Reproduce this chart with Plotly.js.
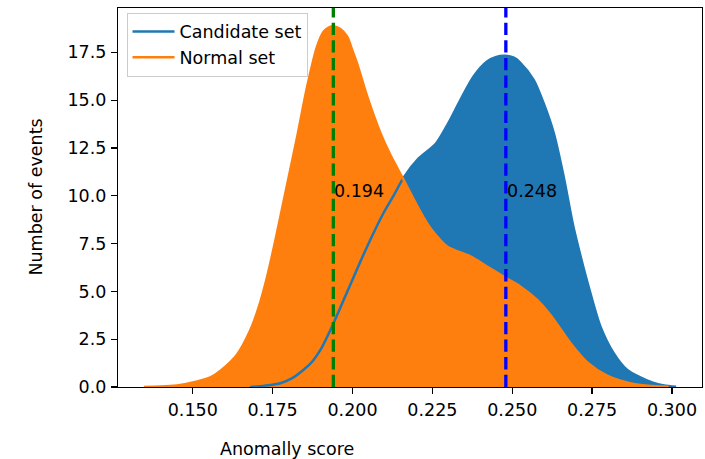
<!DOCTYPE html>
<html>
<head>
<meta charset="utf-8">
<script src="https://cdn.plot.ly/plotly-3.0.1.min.js"></script>
<style>html,body{margin:0;padding:0;background:#fff;}#chart{width:705px;height:459px;}</style>
</head>
<body>
<div id="chart"></div>
<script>
// KDE curve of the candidate set
const candidateX = [0.168, 0.1725, 0.1774, 0.181, 0.1847, 0.1875, 0.190, 0.1941, 0.1993, 0.2046, 0.2097, 0.2130, 0.2160, 0.2207, 0.2260, 0.2300, 0.2338, 0.2379, 0.2421, 0.2450, 0.2478, 0.2505, 0.2524, 0.2567, 0.2598, 0.2630, 0.2661, 0.2690, 0.2713, 0.2744, 0.2776, 0.2817, 0.2859, 0.2901, 0.2940, 0.2975, 0.3013];
const candidateY = [0.0, 0.07, 0.2, 0.45, 0.9, 1.35, 1.95, 3.35, 5.35, 7.35, 9.1, 10.05, 10.95, 11.95, 12.7, 13.8, 15.02, 16.24, 17.02, 17.26, 17.32, 17.22, 16.98, 16.06, 14.85, 13.28, 11.0, 8.5, 6.9, 4.95, 3.17, 1.78, 0.9, 0.5, 0.22, 0.08, 0.01];

// KDE curve of the normal set
const normalX = [0.1347, 0.140, 0.145, 0.1514, 0.1555, 0.1587, 0.1639, 0.1681, 0.1707, 0.1733, 0.1759, 0.1788, 0.1827, 0.1858, 0.1889, 0.1910, 0.1925, 0.1941, 0.1962, 0.1983, 0.1999, 0.2014, 0.2046, 0.2087, 0.2118, 0.2158, 0.2192, 0.2223, 0.2244, 0.2296, 0.2369, 0.2421, 0.2480, 0.2525, 0.2578, 0.2619, 0.2682, 0.2734, 0.2797, 0.2880, 0.2940, 0.2990];
const normalY = [0.0, 0.02, 0.08, 0.29, 0.5, 0.85, 1.7, 3.0, 4.2, 5.78, 7.7, 10.0, 13.1, 15.7, 17.8, 18.59, 18.8, 18.87, 18.72, 18.33, 17.63, 16.94, 15.2, 13.3, 12.15, 10.9, 9.8, 8.85, 8.3, 7.35, 6.83, 6.3, 5.7, 5.26, 4.56, 3.78, 2.3, 1.3, 0.6, 0.16, 0.05, 0.01];

const seriesNames = ["Candidate set", "Normal set"];
const peakValues = [0.194, 0.248];
const peakLabels = ["0.194", "0.248"];
const peakLabelY = 10;
const xTicks = [0.150, 0.175, 0.200, 0.225, 0.250, 0.275, 0.300];
const yTicks = [0.0, 2.5, 5.0, 7.5, 10.0, 12.5, 15.0, 17.5];

const BLUE = "#1f77b4", ORANGE = "#ff7f0e";
const FONT = "DejaVu Sans, sans-serif";
const FS = 17.5;
const SMOOTH = 0.8;

const traces = [
  {x: candidateX, y: candidateY, type: "scatter", mode: "lines", fill: "tozeroy",
   fillcolor: BLUE, line: {width: 0, color: BLUE, shape: "spline", smoothing: SMOOTH},
   showlegend: false, hoverinfo: "skip"},
  {x: normalX, y: normalY, type: "scatter", mode: "lines", fill: "tozeroy",
   fillcolor: ORANGE, line: {width: 0, color: ORANGE, shape: "spline", smoothing: SMOOTH},
   showlegend: false, hoverinfo: "skip"},
  {x: candidateX, y: candidateY, type: "scatter", mode: "lines", name: seriesNames[0],
   line: {width: 2.5, color: BLUE, shape: "spline", smoothing: SMOOTH}},
  {x: normalX, y: normalY, type: "scatter", mode: "lines", name: seriesNames[1],
   line: {width: 2.5, color: ORANGE, shape: "spline", smoothing: SMOOTH}}
];

const lineColors = ["#008000", "#0000ff"];
const shapes = peakValues.map((v, i) => ({
  type: "line", xref: "x", yref: "paper", x0: v, x1: v, y0: 0, y1: 1,
  line: {color: lineColors[i], width: 3.3, dash: "12.3px,5.3px"}
}));

const annotations = peakValues.map((v, i) => ({
  x: v, y: peakLabelY, xref: "x", yref: "y", text: peakLabels[i], showarrow: false,
  xanchor: "left", yanchor: "bottom", xshift: -1, yshift: -7,
  font: {family: FONT, size: FS, color: "#000"}
}));
annotations.push({
  x: 0.290, y: -0.163, xref: "paper", yref: "paper", text: "Anomally score",
  showarrow: false, xanchor: "center", yanchor: "middle",
  font: {family: FONT, size: FS, color: "#000"}
});
annotations.push({
  x: -0.142, y: 0.5, xref: "paper", yref: "paper", text: "Number of events",
  showarrow: false, xanchor: "center", yanchor: "middle", textangle: -90,
  font: {family: FONT, size: FS, color: "#000"}
});

const layout = {
  width: 705, height: 459,
  margin: {l: 118, r: 3, t: 8, b: 72, pad: 0},
  paper_bgcolor: "#fff", plot_bgcolor: "#fff",
  font: {family: FONT, size: FS, color: "#000"},
  xaxis: {
    range: [0.1266, 0.3094], tickvals: xTicks, ticktext: xTicks.map(t => t.toFixed(3)),
    ticks: "outside", ticklen: 5.8, tickwidth: 1.3, tickcolor: "#000",
    showline: true, mirror: true, linecolor: "#000", linewidth: 1.3,
    showgrid: false, zeroline: false, ticklabelstandoff: 1,
    tickfont: {family: FONT, size: FS, color: "#000"}
  },
  yaxis: {
    range: [0, 19.82], tickvals: yTicks, ticktext: yTicks.map(t => t.toFixed(1)),
    ticks: "outside", ticklen: 5.8, tickwidth: 1.3, tickcolor: "#000",
    showline: true, mirror: true, linecolor: "#000", linewidth: 1.3,
    showgrid: false, zeroline: false, ticklabelstandoff: 1,
    tickfont: {family: FONT, size: FS, color: "#000"}
  },
  legend: {
    x: 0.0146, y: 0.988, xanchor: "left", yanchor: "top", itemwidth: 42,
    bgcolor: "rgba(255,255,255,0.8)", bordercolor: "#cccccc", borderwidth: 1,
    font: {family: FONT, size: FS, color: "#000"}, traceorder: "normal"
  },
  shapes: shapes,
  annotations: annotations
};

Plotly.newPlot("chart", traces, layout, {staticPlot: true, displayModeBar: false});
</script>
</body>
</html>
